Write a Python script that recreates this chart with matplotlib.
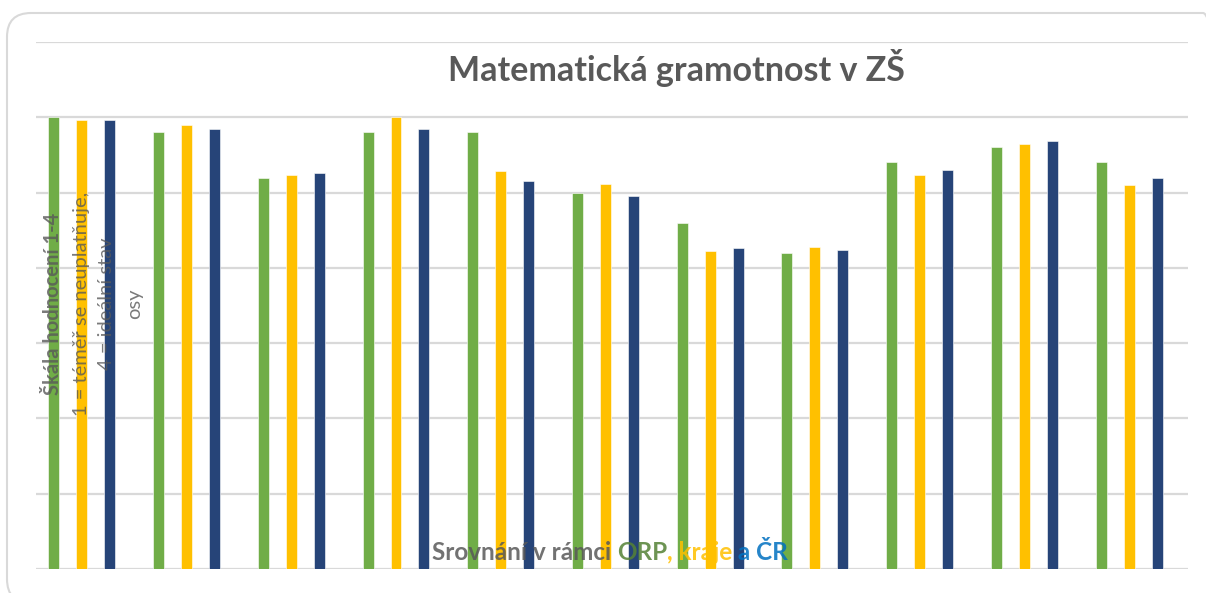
import numpy as np
import matplotlib
matplotlib.use("Agg")
import matplotlib.pyplot as plt
from matplotlib.patches import FancyBboxPatch
from matplotlib.transforms import IdentityTransform

# Data (scale 1-4)
groups = np.arange(11)
orp = [4.00, 3.90, 3.60, 3.90, 3.90, 3.50, 3.30, 3.10, 3.70, 3.80, 3.70]
kraj = [3.98, 3.95, 3.62, 4.00, 3.64, 3.56, 3.11, 3.14, 3.62, 3.82, 3.55]
cr = [3.98, 3.92, 3.63, 3.92, 3.58, 3.48, 3.13, 3.12, 3.65, 3.84, 3.60]

series = [orp, kraj, cr]
colors = ['#70ad47', '#ffc000', '#264478']

plt.rcParams['font.family'] = ['Lato', 'DejaVu Sans']
gray = '#595959'

W, H = 1206, 593
fig = plt.figure(figsize=(W / 100, H / 100), dpi=100)
fig.patch.set_facecolor('white')

# Rounded chart frame in pixels (runs off the right and bottom edge)
frame = FancyBboxPatch((7, -10), 1220, H - 13 + 10,
                       boxstyle="round,pad=0,rounding_size=24",
                       transform=IdentityTransform(), facecolor='none',
                       edgecolor='#d9d9d9', linewidth=1.5)
fig.patches.append(frame)

ax = fig.add_axes([36 / W, (H - 569) / H, (1188 - 36) / W, (569 - 42) / H])

offset = 0.267
width = 0.105
for i, (vals, c) in enumerate(zip(series, colors)):
    ax.bar(groups + (i - 1) * offset, np.array(vals) - 1, bottom=1, width=width,
           color=c, edgecolor='white', linewidth=0.4, zorder=2)

ax.set_ylim(1, 4.5)
ax.set_xlim(-0.4375, 10.5625)
ax.set_yticks(np.arange(1, 4.51, 0.5))
ax.yaxis.grid(True, color='#d9d9d9', linewidth=1.6, zorder=0)
ax.set_axisbelow(True)
ax.tick_params(left=False, bottom=False, labelleft=False, labelbottom=False)
for s in ax.spines.values():
    s.set_visible(False)

# Title
fig.text(676 / W, 1 - 68 / H, 'Matematická gramotnost v ZŠ', ha='center', va='center',
         fontsize=24.5, fontweight='bold', color=gray)

# Axis description, rotated
ylab = [('Škála hodnocení 1-4', 53, 'bold'),
        ('1 = téměř se neuplatňuje,', 81, 'normal'),
        ('4 = ideální stav', 107, 'normal'),
        ('osy', 135, 'normal')]
for txt, px, fw in ylab:
    fig.text(px / W, 1 - 304 / H, txt, rotation=90, ha='center', va='center',
             fontsize=14.5, fontweight=fw, color=gray, alpha=0.8, zorder=5)

# Multicoloured subtitle, pieces chained one after another
parts = [('Srovnání v rámci ', gray), ('ORP', '#548235'), (', kraje', '#ffc000'),
         (' a ČR', '#0070c0')]
prev = None
for txt, c in parts:
    if prev is None:
        prev = ax.annotate(txt, xy=(432 / W, 1 - 552 / H), xycoords='figure fraction',
                           ha='left', va='center', fontsize=17.5, fontweight='bold',
                           color=c, alpha=0.85, zorder=5, annotation_clip=False)
    else:
        prev = ax.annotate(txt, xy=(1, 0), xycoords=prev, ha='left', va='bottom',
                           fontsize=17.5, fontweight='bold', color=c, alpha=0.85,
                           zorder=5, annotation_clip=False)

plt.savefig('out.png', dpi=100)
